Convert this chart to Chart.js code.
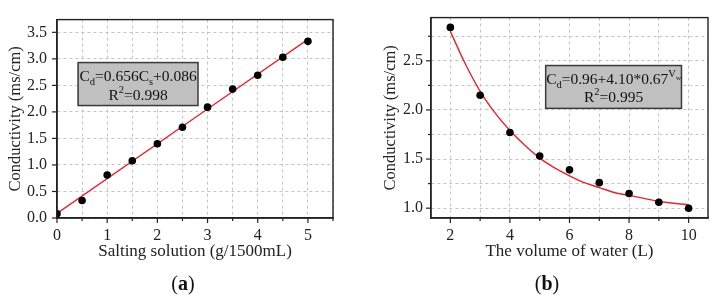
<!DOCTYPE html>
<html>
<head>
<meta charset="utf-8">
<script src="https://cdn.jsdelivr.net/npm/chart.js@4/dist/chart.umd.min.js"></script>
<style>
  body { margin: 0; background: #fff; width: 715px; height: 299px; overflow: hidden; position: relative; font-family: "Liberation Serif", serif; }
  .pane { position: absolute; top: 0; height: 299px; }
  .cap { position: absolute; top: 272px; font-size: 20px; color: #111; transform: translateX(-50%); }
</style>
</head>
<body>
<div class="pane" style="left:0;width:360px"><canvas id="chartA" width="360" height="299"></canvas></div>
<div class="pane" style="left:360px;width:355px"><canvas id="chartB" width="355" height="299"></canvas></div>
<div class="cap" style="left:183px">(<b>a</b>)</div>
<div class="cap" style="left:547px">(<b>b</b>)</div>
<script>
// (a) salting solution vs conductivity
const saltX = [0, 0.5, 1, 1.5, 2, 2.5, 3, 3.5, 4, 4.5, 5];
const saltY = [0.08, 0.33, 0.81, 1.08, 1.40, 1.71, 2.09, 2.43, 2.69, 3.03, 3.33];
const fitAX = [0, 5];
const fitAY = [0.086, 3.366];

// (b) water volume vs conductivity
const waterX = [2, 3, 4, 5, 6, 7, 8, 9, 10];
const waterY = [2.84, 2.15, 1.77, 1.53, 1.39, 1.26, 1.15, 1.06, 1.00];
const fitBX = [2, 2.5, 3, 3.5, 4, 4.5, 5, 5.5, 6, 6.5, 7, 7.5, 8, 8.5, 9, 9.5, 10];
const fitBY = [2.80, 2.47, 2.19, 1.97, 1.79, 1.64, 1.51, 1.41, 1.33, 1.26, 1.21, 1.16, 1.13, 1.10, 1.07, 1.05, 1.035];

const FONT = 'Liberation Serif';
const INK = '#222';
const GRID = '#c4c4c4';
const RED = '#e3262f';

const pts = (xs, ys) => xs.map((x, i) => ({ x, y: ys[i] }));
const isMult = (v, step) => Math.abs(v / step - Math.round(v / step)) < 1e-6;

// frame, minor/major ticks and the equation box
const framePlugin = {
  id: 'frame',
  afterDraw(chart) {
    const { ctx, chartArea: a, scales } = chart;
    const o = chart.options.plugins.frame;
    ctx.save();
    ctx.setLineDash([]);
    ctx.strokeStyle = INK;
    ctx.lineWidth = 1.4;
    ctx.strokeRect(a.left, a.top, a.right - a.left, a.bottom - a.top);
    ctx.lineWidth = 1.2;
    scales.x.ticks.forEach(t => {
      const px = scales.x.getPixelForValue(t.value);
      const len = isMult(t.value, o.xMajor) ? 5 : 3;
      ctx.beginPath(); ctx.moveTo(px, a.bottom); ctx.lineTo(px, a.bottom + len); ctx.stroke();
    });
    scales.y.ticks.forEach(t => {
      const py = scales.y.getPixelForValue(t.value);
      const len = isMult(t.value, o.yMajor) ? 5 : 3;
      ctx.beginPath(); ctx.moveTo(a.left, py); ctx.lineTo(a.left - len, py); ctx.stroke();
    });

    // equation box
    const b = o.box;
    const x1 = scales.x.getPixelForValue(b.x0), x2 = scales.x.getPixelForValue(b.x1);
    const y1 = scales.y.getPixelForValue(b.y0), y2 = scales.y.getPixelForValue(b.y1);
    ctx.fillStyle = '#c0c0c0';
    ctx.fillRect(x1, y1, x2 - x1, y2 - y1);
    ctx.strokeStyle = '#3a3a3a';
    ctx.lineWidth = 1.5;
    ctx.strokeRect(x1, y1, x2 - x1, y2 - y1);
    const cx = (x1 + x2) / 2;
    const h = y2 - y1;
    drawRich(ctx, b.line1, cx, y1 + h * 0.43);
    drawRich(ctx, b.line2, cx, y1 + h * 0.86);
    ctx.restore();
  }
};

// segments: {t, s}: s = 0 normal, 'sub', 'sup', 'supsub'
function drawRich(ctx, segs, cx, base) {
  const spec = s => {
    if (s === 'sub') return { size: 10.5, dy: 4 };
    if (s === 'sup') return { size: 10.5, dy: -7 };
    if (s === 'supsub') return { size: 7, dy: -4 };
    return { size: 15.5, dy: 0 };
  };
  let w = 0;
  segs.forEach(g => { ctx.font = spec(g.s).size + 'px "' + FONT + '"'; w += ctx.measureText(g.t).width; });
  let x = cx - w / 2;
  ctx.fillStyle = '#111';
  ctx.textBaseline = 'alphabetic';
  ctx.textAlign = 'left';
  segs.forEach(g => {
    const sp = spec(g.s);
    ctx.font = sp.size + 'px "' + FONT + '"';
    ctx.fillText(g.t, x, base + sp.dy);
    x += ctx.measureText(g.t).width;
  });
}

function makeChart(id, cfg) {
  return new Chart(document.getElementById(id), {
    type: 'scatter',
    data: {
      datasets: [
        { data: cfg.points, pointRadius: 3.8, pointBackgroundColor: '#000', pointBorderColor: '#000', pointBorderWidth: 0, showLine: false, order: 0 },
        { data: cfg.fit, showLine: true, borderColor: RED, borderWidth: 1.4, pointRadius: 0, tension: 0.4, cubicInterpolationMode: 'monotone', order: 1 }
      ]
    },
    options: {
      responsive: false,
      animation: false,
      layout: { padding: cfg.pad },
      plugins: {
        legend: { display: false },
        tooltip: { enabled: false },
        frame: { xMajor: cfg.xMajor, yMajor: cfg.yMajor, box: cfg.box }
      },
      scales: {
        x: {
          type: 'linear', min: cfg.xMin, max: cfg.xMax,
          afterFit: s => { s.height = 44; },
          ticks: {
            stepSize: cfg.xStep, includeBounds: false, padding: 8,
            color: INK, font: { family: FONT, size: 16 },
            callback: v => isMult(v, cfg.xMajor) ? String(v) : ''
          },
          grid: {
            drawTicks: false,
            color: c => (c.tick && isMult(c.tick.value, cfg.xGrid)) ? GRID : 'rgba(0,0,0,0)',
            lineWidth: 1
          },
          // in v4 border.dash dashes the grid lines
          border: { display: true, color: INK, width: 1.4, dash: [3, 3] },
          title: { display: true, text: cfg.xTitle, color: INK, font: { family: FONT, size: 17 }, padding: { top: 0, bottom: 0 } }
        },
        y: {
          type: 'linear', min: cfg.yMin, max: cfg.yMax,
          afterFit: s => { s.width = 57; },
          ticks: {
            stepSize: cfg.yStep, includeBounds: false, padding: cfg.yPad,
            color: INK, font: { family: FONT, size: 16 },
            callback: v => isMult(v, cfg.yMajor) ? v.toFixed(1) : ''
          },
          grid: {
            drawTicks: false,
            color: c => (c.tick && isMult(c.tick.value, cfg.yGrid)) ? GRID : 'rgba(0,0,0,0)',
            lineWidth: 1
          },
          border: { display: true, color: INK, width: 1.4, dash: [3, 3] },
          title: { display: true, text: 'Conductivity (ms/cm)', color: INK, font: { family: FONT, size: 16.5 }, padding: { top: cfg.yTitlePad, bottom: 0 } }
        }
      }
    },
    plugins: [framePlugin]
  });
}

makeChart('chartA', {
  points: pts(saltX, saltY), fit: pts(fitAX, fitAY),
  pad: { top: 15, right: 27, bottom: 37, left: 0 },
  xMin: 0, xMax: 5.5, xStep: 0.5, xMajor: 1, xGrid: 0.5,
  yMin: 0, yMax: 3.74, yStep: 0.25, yMajor: 0.5, yGrid: 0.5,
  yPad: 10, yTitlePad: 6,
  xTitle: 'Salting solution (g/1500mL)',
  box: {
    x0: 0.42, x1: 2.81, y0: 2.93, y1: 2.12,
    line1: [{ t: 'C' }, { t: 'd', s: 'sub' }, { t: '=0.656C' }, { t: 's', s: 'sub' }, { t: '+0.086' }],
    line2: [{ t: 'R' }, { t: '2', s: 'sup' }, { t: '=0.998' }]
  }
});

makeChart('chartB', {
  points: pts(waterX, waterY), fit: pts(fitBX, fitBY),
  pad: { top: 15, right: 7, bottom: 37, left: 14 },
  xMin: 1.35, xMax: 10.65, xStep: 1, xMajor: 2, xGrid: 1,
  yMin: 0.9, yMax: 2.94, yStep: 0.25, yMajor: 0.5, yGrid: 0.25,
  yPad: 8, yTitlePad: 7,
  xTitle: 'The volume of water (L)',
  box: {
    x0: 5.2, x1: 9.76, y0: 2.452, y1: 2.016,
    line1: [{ t: 'C' }, { t: 'd', s: 'sub' }, { t: '=0.96+4.10*0.67' }, { t: 'V', s: 'sup' }, { t: 'w', s: 'supsub' }],
    line2: [{ t: 'R' }, { t: '2', s: 'sup' }, { t: '=0.995' }]
  }
});
</script>
</body>
</html>
